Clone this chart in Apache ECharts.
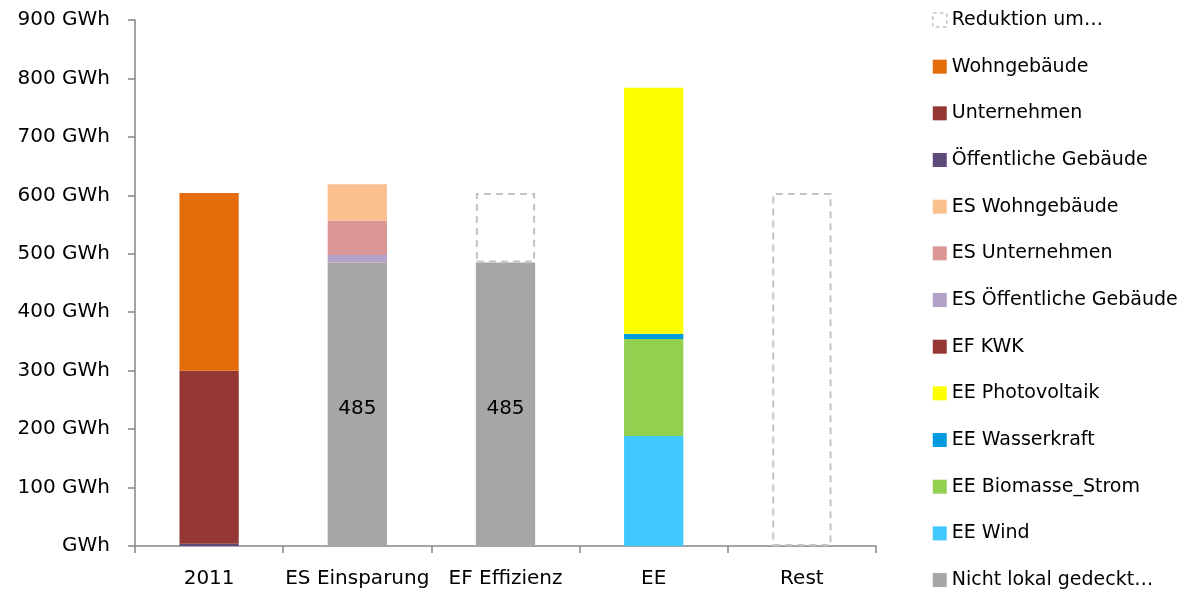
<!DOCTYPE html>
<html>
<head>
<meta charset="utf-8">
<script src="https://cdn.jsdelivr.net/npm/echarts@6/dist/echarts.min.js"></script>
<style>
  html, body { margin: 0; padding: 0; background: #fff; }
  #chart { width: 1187px; height: 596px; }
</style>
</head>
<body>
<div id="chart"></div>
<script>
// Stromverbrauch und Deckung (GWh)
const categories = ['2011', 'ES Einsparung', 'EF Effizienz', 'EE', 'Rest'];

const nichtLokal   = [null, 485, 485, null, null];
const eeWind       = [null, null, null, 188, null];
const eeBiomasse   = [null, null, null, 166, null];
const eeWasser     = [null, null, null, 9, null];
const eePhotovolt  = [null, null, null, 421, null];
const efKwk        = [null, null, null, null, null];
const esOeffentl   = [null, 13, null, null, null];
const esUnternehm  = [null, 59, null, null, null];
const esWohngeb    = [null, 62, null, null, null];
const oeffentlich  = [4, null, null, null, null];
const unternehmen  = [296, null, null, null, null];
const wohngebaeude = [304, null, null, null, null];
const reduktion    = [null, null, 119, null, 604];

const yTicks = [0, 100, 200, 300, 400, 500, 600, 700, 800, 900];

const FONT = '"DejaVu Sans", sans-serif';

// bottom-to-top stacking order
const stackDefs = [
  ['Nicht lokal gedeckt…', nichtLokal, '#A6A6A6'],
  ['EE Wind', eeWind, '#40C8FF'],
  ['EE Biomasse_Strom', eeBiomasse, '#92D050'],
  ['EE Wasserkraft', eeWasser, '#009ADF'],
  ['EE Photovoltaik', eePhotovolt, '#FFFF00'],
  ['EF KWK', efKwk, '#953735'],
  ['ES Öffentliche Gebäude', esOeffentl, '#B3A2C7'],
  ['ES Unternehmen', esUnternehm, '#D99694'],
  ['ES Wohngebäude', esWohngeb, '#FAC090'],
  ['Öffentliche Gebäude', oeffentlich, '#604A7B'],
  ['Unternehmen', unternehmen, '#953735'],
  ['Wohngebäude', wohngebaeude, '#E46C0A']
];

const series = stackDefs.map(([name, data, color]) => ({
  name: name,
  type: 'bar',
  stack: 'total',
  barCategoryGap: '60%',
  data: data,
  itemStyle: { color: color },
  label: name === 'Nicht lokal gedeckt…' ? {
    show: true,
    position: 'inside',
    offset: [0, 5],
    color: '#000',
    fontFamily: FONT,
    fontSize: 20
  } : { show: false },
  emphasis: { disabled: true }
}));

series.push({
  name: 'Reduktion um…',
  type: 'bar',
  stack: 'total',
  barCategoryGap: '60%',
  data: reduktion,
  itemStyle: {
    color: 'rgba(255,255,255,0)',
    borderColor: '#C4C4C4',
    borderWidth: 2,
    borderType: [7, 5]
  },
  emphasis: { disabled: true }
});

const legendOrder = ['Reduktion um…', 'Wohngebäude', 'Unternehmen', 'Öffentliche Gebäude',
  'ES Wohngebäude', 'ES Unternehmen', 'ES Öffentliche Gebäude', 'EF KWK',
  'EE Photovoltaik', 'EE Wasserkraft', 'EE Biomasse_Strom', 'EE Wind', 'Nicht lokal gedeckt…'];

const chart = echarts.init(document.getElementById('chart'), null, { renderer: 'canvas' });
chart.setOption({
  animation: false,
  backgroundColor: '#fff',
  grid: { left: 135, right: 311, top: 20, bottom: 50, containLabel: false },
  legend: {
    orient: 'vertical',
    left: 932,
    top: 10,
    padding: 0,
    itemWidth: 14,
    itemHeight: 14,
    itemGap: 26.67,
    icon: 'rect',
    textStyle: { fontFamily: FONT, fontSize: 19, color: '#000', lineHeight: 20 },
    data: legendOrder.map(n => n === 'Reduktion um…'
      ? { name: n, itemStyle: { color: '#fff', borderColor: '#C8C8C8', borderWidth: 1.5, borderType: [4, 3] } }
      : { name: n }),
    selectedMode: false
  },
  xAxis: {
    type: 'category',
    data: categories,
    axisLine: { lineStyle: { color: '#868686', width: 1.5 } },
    axisTick: { show: true, length: 7, lineStyle: { color: '#868686', width: 1.5 } },
    axisLabel: { interval: 0, fontFamily: FONT, fontSize: 20, color: '#000', margin: 23 }
  },
  yAxis: {
    type: 'value',
    min: yTicks[0],
    max: yTicks[yTicks.length - 1],
    interval: yTicks[1] - yTicks[0],
    splitLine: { show: false },
    axisLine: { show: true, lineStyle: { color: '#868686', width: 1.5 } },
    axisTick: { show: true, length: 7, lineStyle: { color: '#868686', width: 1.5 } },
    axisLabel: {
      fontFamily: FONT, fontSize: 20, color: '#000', margin: 25,
      formatter: v => v === 0 ? 'GWh' : v + ' GWh'
    }
  },
  series: series
});
</script>
</body>
</html>
